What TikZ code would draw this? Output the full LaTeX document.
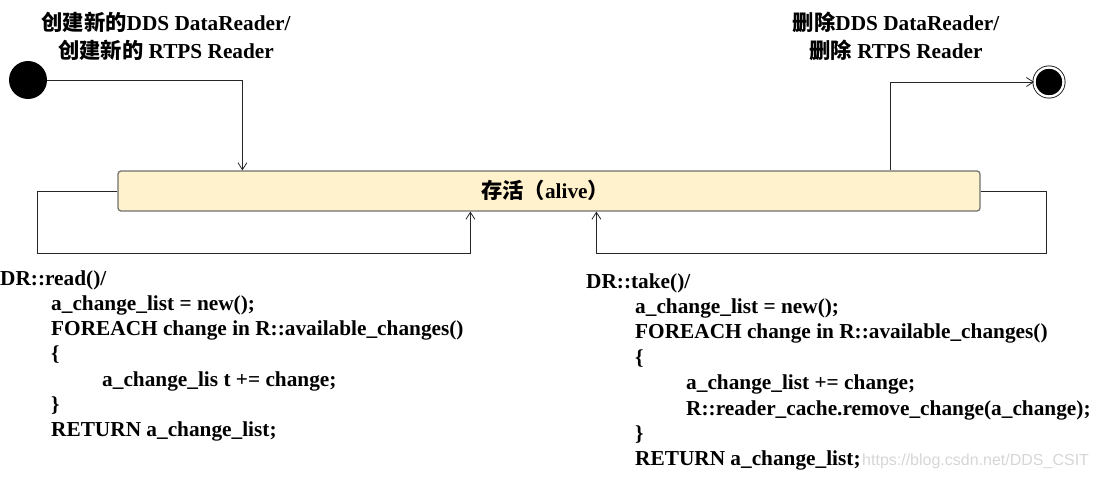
\documentclass[tikz,border=0pt]{standalone}
\usepackage{fontspec}
\setmainfont{Liberation Serif}
\newfontfamily\cjk{Noto Sans CJK SC}
\newfontfamily\wmfont{Liberation Sans}
\usetikzlibrary{arrows.meta}
\definecolor{alivefill}{HTML}{FFF2CC}
\definecolor{aliveedge}{HTML}{6E6E6E}
\definecolor{wmgray}{HTML}{D6D6D6}
\tikzset{
  arr/.style={draw=black!85, line width=0.8pt, -{Straight Barb[length=7pt,width=9pt,line width=0.8pt]}},
  lbl/.style={font=\fontsize{21.3}{24}\selectfont\bfseries, inner sep=0pt},
  code/.style={font=\fontsize{21.3}{24}\selectfont\bfseries, inner sep=0pt, anchor=base west},
  statebox/.style={draw=aliveedge, line width=1.2pt, fill=alivefill, rounded corners=3pt, minimum width=862pt, minimum height=40pt, inner sep=0pt}
}
\begin{document}
\begin{tikzpicture}[x=1pt,y=-1pt]
\useasboundingbox (0,0) rectangle (1094,479);
% start / end
\node[circle, fill=black, minimum size=38pt, inner sep=0pt] (s) at (28,80) {};
\node[circle, fill=black, draw=black, line width=0.8pt, double=white, double distance=2.4pt, minimum size=29pt, inner sep=0pt] (e) at (1049,82) {};
% state
\node[statebox] (alive) at (549,191) {};
\node[lbl, anchor=base] (alivetxt) at (545,198) {{\cjk\bfseries 存活（}alive{\cjk\bfseries ）}};
% labels
\node[lbl, anchor=base] (c1) at (166,30) {{\cjk\bfseries 创建新的}DDS DataReader/};
\node[lbl, anchor=base] (c2) at (166,58) {{\cjk\bfseries 创建新的} RTPS Reader};
\node[lbl, anchor=base] (d1) at (896,30) {{\cjk\bfseries 删除}DDS DataReader/};
\node[lbl, anchor=base] (d2) at (896,58) {{\cjk\bfseries 删除} RTPS Reader};
% connectors
\coordinate (L) at (37,253);
\coordinate (R) at (1046,253);
\draw[arr] (s.east) -| ([xshift=125pt]alive.north west);
\draw[arr] ([xshift=773pt]alive.north west) |- (e.west);
\draw[arr] (alive.west) -| (L) -| ([xshift=353pt]alive.south west);
\draw[arr] (alive.east) -| (R) -| ([xshift=479pt]alive.south west);
% read code
\node[code] (r1) at (0,285) {DR::read()/};
\node[code] (r2) at (51,310.3) {a\_change\_list = new();};
\node[code] (r3) at (51,335.6) {FOREACH change in R::available\_changes()};
\node[code] (r4) at (51,360.9) {\{};
\node[code] (r5) at (102,386.2) {a\_change\_lis t += change;};
\node[code] (r6) at (51,411.5) {\}};
\node[code] (r7) at (51,436.8) {RETURN a\_change\_list;};
% take code
\node[code] (t1) at (586,288) {DR::take()/};
\node[code] (t2) at (635,313.4) {a\_change\_list = new();};
\node[code] (t3) at (635,338.8) {FOREACH change in R::available\_changes()};
\node[code] (t4) at (635,364.2) {\{};
\node[code] (t5) at (686,389.6) {a\_change\_list += change;};
\node[code] (t6) at (686,415) {R::reader\_cache.remove\_change(a\_change);};
\node[code] (t7) at (635,440.4) {\}};
\node[code] (t8) at (635,465.8) {RETURN a\_change\_list;};
% watermark
\node[anchor=base west, inner sep=0pt, font=\fontsize{16}{18}\selectfont\wmfont, text=wmgray] (wm) at (862,465.8) {https://blog.csdn.net/DDS\_CSIT};
\end{tikzpicture}
\end{document}
